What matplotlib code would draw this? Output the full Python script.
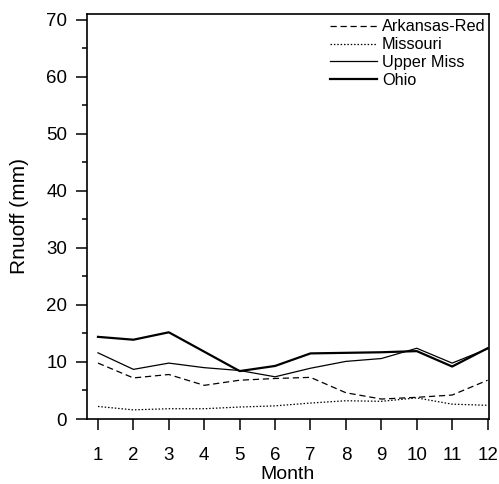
import matplotlib
matplotlib.use('Agg')
import matplotlib.pyplot as plt

plt.rcParams['font.family'] = ['Liberation Sans', 'DejaVu Sans']

months = [1, 2, 3, 4, 5, 6, 7, 8, 9, 10, 11, 12]
arkansas_red = [9.8, 7.2, 7.8, 5.9, 6.8, 7.1, 7.3, 4.6, 3.5, 3.8, 4.2, 6.8]
missouri = [2.2, 1.6, 1.8, 1.8, 2.1, 2.3, 2.8, 3.2, 3.1, 3.7, 2.6, 2.4]
upper_miss = [11.6, 8.7, 9.8, 9.0, 8.5, 7.4, 8.9, 10.1, 10.6, 12.4, 9.8, 12.3]
ohio = [14.4, 13.9, 15.2, 11.8, 8.4, 9.3, 11.5, 11.6, 11.7, 11.9, 9.2, 12.4]

fig = plt.figure(figsize=(4.99, 4.84), dpi=100)
ax = fig.add_axes([87/499, 1 - 419/484, (489-87)/499, (419-14)/484])

ax.plot(months, arkansas_red, color='black', lw=0.9, linestyle=(0, (5, 3)), label='Arkansas-Red')
ax.plot(months, missouri, color='black', lw=0.9, linestyle=(0, (1.2, 1.5)), label='Missouri')
ax.plot(months, upper_miss, color='black', lw=0.9, label='Upper Miss')
ax.plot(months, ohio, color='black', lw=1.6, label='Ohio')

ax.set_xlim(0.69, 12.04)
ax.set_ylim(0, 71)
ax.set_xticks(months)
ax.set_yticks(range(0, 71, 10))
ax.set_yticks(range(5, 70, 10), minor=True)
ax.tick_params(axis='both', which='major', length=7.8, width=1.1,
               labelsize=13.5, colors='black')
ax.tick_params(axis='x', which='major', pad=12)
ax.tick_params(axis='y', which='major', pad=6.5)
ax.tick_params(axis='y', which='minor', length=3.8, width=1.1)
for s in ax.spines.values():
    s.set_linewidth(1.2)

ax.set_xlabel('Month', fontsize=14, labelpad=2)
ax.set_ylabel('Rnuoff (mm)', fontsize=15, labelpad=12)

ax.legend(loc='upper right', bbox_to_anchor=(1.0075, 1.003), frameon=False,
          fontsize=11.7, handlelength=2.9, handletextpad=0.3, labelspacing=0.18,
          borderaxespad=0.0, borderpad=0.4)

fig.savefig('out.png', dpi=100)
